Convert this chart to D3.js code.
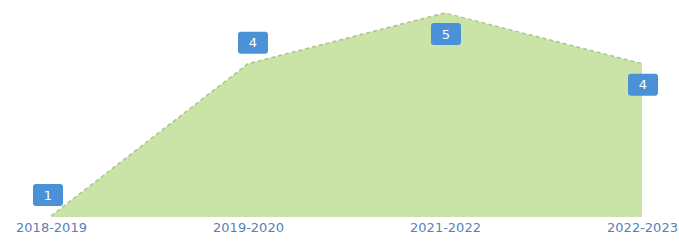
<!DOCTYPE html>
<html>
<head>
<meta charset="utf-8">
<script src="https://cdn.jsdelivr.net/npm/d3@7"></script>
<style>
  html, body { margin: 0; padding: 0; background: #fff; }
  svg { display: block; }
</style>
</head>
<body>
<svg id="chart"></svg>
<script>
const width = 679;
const height = 241;

// data
const seasons = ["2018-2019", "2019-2020", "2021-2022", "2022-2023"];
const counts = [1, 4, 5, 4];
// where each value badge sits relative to its point
const badgeSide = ["above", "above", "below", "below"];

const svg = d3.select("#chart")
  .attr("width", width)
  .attr("height", height);

const x = d3.scalePoint()
  .domain(seasons)
  .range([51, 642]);

const y = d3.scaleLinear()
  .domain([1, 5])
  .range([216, 13]);

const points = seasons.map((s, i) => ({season: s, value: counts[i], side: badgeSide[i]}));

// filled area
const area = d3.area()
  .x(d => x(d.season))
  .y0(y(1) + 1)
  .y1(d => y(d.value));

svg.append("path")
  .datum(points)
  .attr("d", area)
  .attr("fill", "#cae4a7");

// dashed top edge
const line = d3.line()
  .x(d => x(d.season))
  .y(d => y(d.value));

svg.append("path")
  .datum(points)
  .attr("d", line)
  .attr("fill", "none")
  .attr("stroke", "#a9c58d")
  .attr("stroke-width", 1.5)
  .attr("stroke-dasharray", "4,3");

// x axis labels
const xAxis = d3.axisBottom(x).tickSize(0).tickPadding(5);
const gx = svg.append("g")
  .attr("transform", `translate(0,${y(1) + 2})`)
  .call(xAxis);
gx.select(".domain").remove();
gx.selectAll("text")
  .attr("fill", "#5a7fb6")
  .attr("font-family", "DejaVu Sans, sans-serif")
  .attr("font-size", 13);

// value badges
const bw = 30, bh = 22;
function badgePos(d) {
  const px = x(d.season), py = y(d.value);
  if (d.side === "above") return [px - 3 + (d.value > 1 ? 8 : 0), py - 21];
  return [px + 1, py + 21];
}

const badges = svg.selectAll("g.badge")
  .data(points)
  .join("g")
  .attr("class", "badge")
  .attr("transform", d => { const p = badgePos(d); return `translate(${p[0]},${p[1]})`; });

badges.append("rect")
  .attr("x", -bw / 2)
  .attr("y", -bh / 2)
  .attr("width", bw)
  .attr("height", bh)
  .attr("rx", 3)
  .attr("fill", "#4a91d7");

badges.append("text")
  .attr("text-anchor", "middle")
  .attr("dy", "0.36em")
  .attr("fill", "#fff")
  .attr("font-family", "DejaVu Sans, sans-serif")
  .attr("font-size", 13)
  .text(d => d.value);
</script>
</body>
</html>
